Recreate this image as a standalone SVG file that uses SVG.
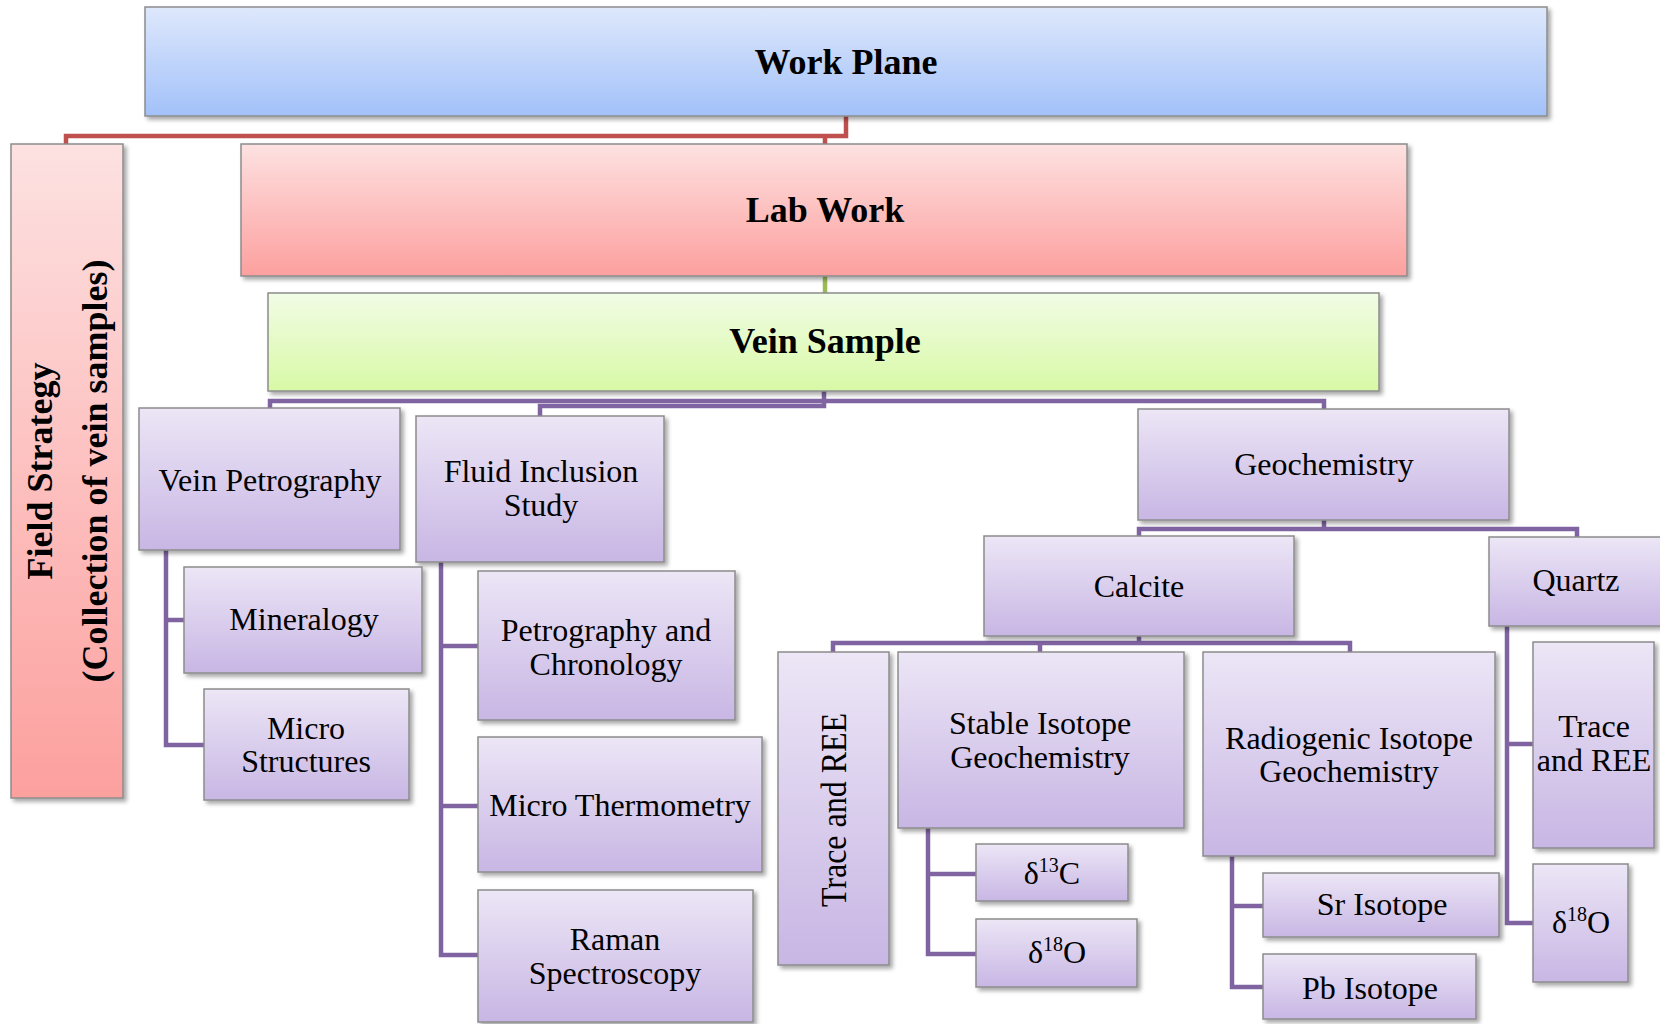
<svg xmlns="http://www.w3.org/2000/svg" width="1660" height="1024" viewBox="0 0 1660 1024">
<defs>
<linearGradient id="gBlue" x1="0" y1="0" x2="0" y2="1"><stop offset="0" stop-color="#DEE8FC"/><stop offset="1" stop-color="#A2C1F9"/></linearGradient>
<linearGradient id="gRed" x1="0" y1="0" x2="0" y2="1"><stop offset="0" stop-color="#FDE1E1"/><stop offset="1" stop-color="#FCA09E"/></linearGradient>
<linearGradient id="gGreen" x1="0" y1="0" x2="0" y2="1"><stop offset="0" stop-color="#F1FCE5"/><stop offset="1" stop-color="#D8F9A6"/></linearGradient>
<linearGradient id="gPurple" x1="0" y1="0" x2="0" y2="1"><stop offset="0" stop-color="#ECE6F6"/><stop offset="1" stop-color="#C8B6E4"/></linearGradient>
<filter id="sh" x="-10%" y="-10%" width="130%" height="130%"><feDropShadow dx="3" dy="3" stdDeviation="2" flood-color="#000" flood-opacity="0.35"/></filter>
</defs>
<style>
.box{stroke:#8C8C8C;stroke-width:1.5;filter:url(#sh)}
.p{fill:url(#gPurple)}
.t{font-family:"Liberation Serif","Times New Roman",serif;font-size:32px;fill:#000;text-anchor:middle}
.b{font-weight:bold;font-size:36px}
.sup{font-size:20px}
.cr{fill:none;stroke:#C0504D;stroke-width:4.5}
.cg{fill:none;stroke:#9BBB59;stroke-width:4.5}
.cp{fill:none;stroke:#8064A2;stroke-width:4.5}
</style>
<rect width="1660" height="1024" fill="#fff"/>
<g id="connectors">
<path class="cr" d="M846,116 V136 H66 V145 M825,136 V145"/>
<path class="cg" d="M825,276 V293"/>
<path class="cp" d="M270,409 V401 H1324 V409"/>
<path class="cp" d="M824,391 V406 H540 V416"/>
<path class="cp" d="M166,550 V745 H204 M166,620 H184"/>
<path class="cp" d="M441,562 V955 H478 M441,646 H478 M441,806 H478"/>
<path class="cp" d="M1324,520 V529 M1139,536 V529 H1577 V537"/>
<path class="cp" d="M1139,636 V643 M833,652 V643 H1350 V652 M1040,643 V652"/>
<path class="cp" d="M928,828 V954 H976 M928,874 H976"/>
<path class="cp" d="M1232,856 V987 H1263 M1232,906 H1263"/>
<path class="cp" d="M1507,626 V923 H1533 M1507,744 H1533"/>
</g>
<g id="work-plane"><rect class="box" x="145" y="7" width="1402" height="109" fill="url(#gBlue)"/><text class="t b" x="846" y="74">Work Plane</text></g>
<g id="field-strategy"><rect class="box" x="11" y="144" width="112" height="654" fill="url(#gRed)"/>
<text class="t b" transform="translate(52,471) rotate(-90)"><tspan x="0" y="0">Field Strategy</tspan><tspan x="0" y="55">(Collection of vein samples)</tspan></text></g>
<g id="lab-work"><rect class="box" x="241" y="144" width="1166" height="132" fill="url(#gRed)"/><text class="t b" x="825" y="222">Lab Work</text></g>
<g id="vein-sample"><rect class="box" x="268" y="293" width="1111" height="98" fill="url(#gGreen)"/><text class="t b" x="825" y="353">Vein Sample</text></g>
<g id="vein-petrography"><rect class="box p" x="139" y="408" width="261" height="142"/><text class="t" x="270" y="491">Vein Petrography</text></g>
<g id="fluid-inclusion"><rect class="box p" x="416" y="416" width="248" height="146"/><text class="t"><tspan x="541" y="482">Fluid Inclusion</tspan><tspan x="541" y="516">Study</tspan></text></g>
<g id="mineralogy"><rect class="box p" x="184" y="567" width="238" height="106"/><text class="t" x="304" y="630">Mineralogy</text></g>
<g id="micro-structures"><rect class="box p" x="204" y="689" width="205" height="111"/><text class="t"><tspan x="306" y="739">Micro</tspan><tspan x="306" y="772">Structures</tspan></text></g>
<g id="petrography-chronology"><rect class="box p" x="478" y="571" width="257" height="149"/><text class="t"><tspan x="606" y="641">Petrography and</tspan><tspan x="606" y="675">Chronology</tspan></text></g>
<g id="micro-thermometry"><rect class="box p" x="478" y="737" width="284" height="135"/><text class="t" x="620" y="816">Micro Thermometry</text></g>
<g id="raman"><rect class="box p" x="478" y="890" width="275" height="132"/><text class="t"><tspan x="615" y="950">Raman</tspan><tspan x="615" y="984">Spectroscopy</tspan></text></g>
<g id="geochemistry"><rect class="box p" x="1138" y="409" width="371" height="111"/><text class="t" x="1324" y="475">Geochemistry</text></g>
<g id="calcite"><rect class="box p" x="984" y="536" width="310" height="100"/><text class="t" x="1139" y="597">Calcite</text></g>
<g id="quartz"><rect class="box p" x="1489" y="537" width="180" height="89"/><text class="t" x="1576" y="591">Quartz</text></g>
<g id="trace-ree-calcite"><rect class="box p" x="778" y="652" width="111" height="313"/><text class="t" transform="translate(846,810) rotate(-90) scale(1,1.15)">Trace and REE</text></g>
<g id="stable-isotope"><rect class="box p" x="898" y="652" width="286" height="176"/><text class="t"><tspan x="1040" y="734">Stable Isotope</tspan><tspan x="1040" y="768">Geochemistry</tspan></text></g>
<g id="radiogenic-isotope"><rect class="box p" x="1203" y="652" width="292" height="204"/><text class="t"><tspan x="1349" y="749">Radiogenic Isotope</tspan><tspan x="1349" y="782">Geochemistry</tspan></text></g>
<g id="d13c"><rect class="box p" x="976" y="844" width="152" height="57"/><text class="t" x="1052" y="884">δ<tspan class="sup" dy="-12">13</tspan><tspan dy="12">C</tspan></text></g>
<g id="d18o-calcite"><rect class="box p" x="976" y="919" width="161" height="68"/><text class="t" x="1057" y="963">δ<tspan class="sup" dy="-12">18</tspan><tspan dy="12">O</tspan></text></g>
<g id="sr-isotope"><rect class="box p" x="1263" y="873" width="236" height="64"/><text class="t" x="1382" y="915">Sr Isotope</text></g>
<g id="pb-isotope"><rect class="box p" x="1263" y="954" width="213" height="65"/><text class="t" x="1370" y="999">Pb Isotope</text></g>
<g id="trace-ree-quartz"><rect class="box p" x="1533" y="642" width="121" height="206"/><text class="t"><tspan x="1594" y="737">Trace</tspan><tspan x="1594" y="771">and REE</tspan></text></g>
<g id="d18o-quartz"><rect class="box p" x="1533" y="864" width="95" height="118"/><text class="t" x="1581" y="933">δ<tspan class="sup" dy="-12">18</tspan><tspan dy="12">O</tspan></text></g>
</svg>
